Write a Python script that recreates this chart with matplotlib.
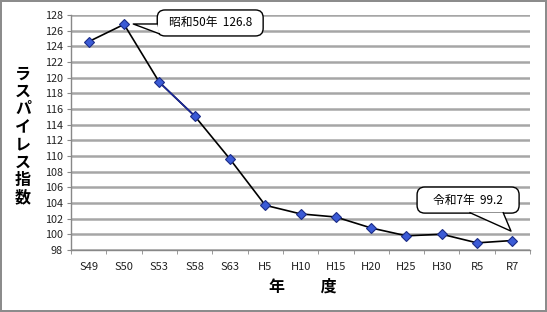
import matplotlib.pyplot as plt
from matplotlib.patches import FancyBboxPatch, Polygon
import numpy as np

plt.rcParams['font.family'] = ['Noto Sans CJK JP', 'DejaVu Sans']

# 年度とラスパイレス指数
years = ['S49', 'S50', 'S53', 'S58', 'S63', 'H5', 'H10', 'H15', 'H20', 'H25', 'H30', 'R5', 'R7']
index_values = [124.6, 126.8, 119.4, 115.1, 109.6, 103.7, 102.6, 102.2, 100.8, 99.8, 100.0, 98.9, 99.2]
y_ticks = list(range(98, 129, 2))

fig = plt.figure(figsize=(5.47, 3.12), dpi=100, linewidth=1.5, edgecolor='#8c8c8c')
ax = fig.add_axes([0.130, 0.199, 0.839, 0.753])

x = np.arange(len(years))

# 折れ線（S53-S58区間だけ青）
ax.plot(x, index_values, color='black', linewidth=1.2, zorder=3)
ax.plot(x[2:4], index_values[2:4], color='#1c2a9c', linewidth=1.2, zorder=3)
ax.plot(x, index_values, linestyle='none', marker='D', markersize=5.5,
        markerfacecolor='#3b5bd6', markeredgecolor='#1b2c86', markeredgewidth=0.8, zorder=4)

ax.set_xlim(-0.5, len(years) - 0.5)
ax.set_ylim(98, 128)
ax.set_yticks(y_ticks)
ax.set_yticklabels([str(t) for t in y_ticks], fontsize=7.8, color='#222222')
ax.set_xticks(x)
ax.set_xticklabels(years, fontsize=8, color='#222222')
ax.tick_params(axis='x', length=0, pad=9)
ax.set_xticks(np.arange(-0.5, len(years)), minor=True)
ax.tick_params(axis='x', which='minor', length=3, color='#888888', direction='out')
ax.tick_params(axis='y', length=3, color='#888888', direction='out', pad=3)

ax.grid(axis='y', color='#a6a6a6', linewidth=1.8)
ax.set_axisbelow(True)
for s in ['top', 'right']:
    ax.spines[s].set_visible(False)
for s in ['left', 'bottom']:
    ax.spines[s].set_color('#888888')
    ax.spines[s].set_linewidth(1.0)

# 軸ラベル
fig.text(0.042, 0.565, '\n'.join('ラスパイレス指数'), fontsize=11.5, fontweight='bold',
         ha='center', va='center', linespacing=1.13)
fig.text(0.553, 0.08, '年　　 度', fontsize=11.5, fontweight='bold', ha='center', va='center')

# 吹き出し（データ座標で描く）
bbox = ax.get_window_extent()
aspect = (30 / bbox.height) / (len(years) / bbox.width)


def callout(text, x0, x1, y0, y1, tail, fontsize=8.5):
    # 本体
    box = FancyBboxPatch((x0, y0), x1 - x0, y1 - y0,
                         boxstyle='round,pad=0,rounding_size=0.22', mutation_aspect=aspect,
                         fc='white', ec='black', lw=1.0, zorder=6, clip_on=False)
    ax.add_patch(box)
    # しっぽ（枠線を切って白で塗る）
    ax.add_patch(Polygon(tail, closed=True, fc='white', ec='none', zorder=7, clip_on=False))
    ax.plot([tail[0][0], tail[1][0], tail[2][0]], [tail[0][1], tail[1][1], tail[2][1]],
            color='black', lw=1.0, zorder=8, clip_on=False)
    ax.text((x0 + x1) / 2, (y0 + y1) / 2, text, fontsize=fontsize, ha='center', va='center',
            zorder=9)


callout('昭和50年  126.8', 1.94, 4.94, 125.32, 128.64,
        [(1.94, 126.85), (1.26, 126.85), (2.0, 125.6)])
callout('令和7年  99.2', 9.30, 12.19, 102.7, 106.03,
        [(10.80, 102.75), (11.96, 100.4), (11.74, 102.75)])

fig.savefig('out.png', dpi=100)
